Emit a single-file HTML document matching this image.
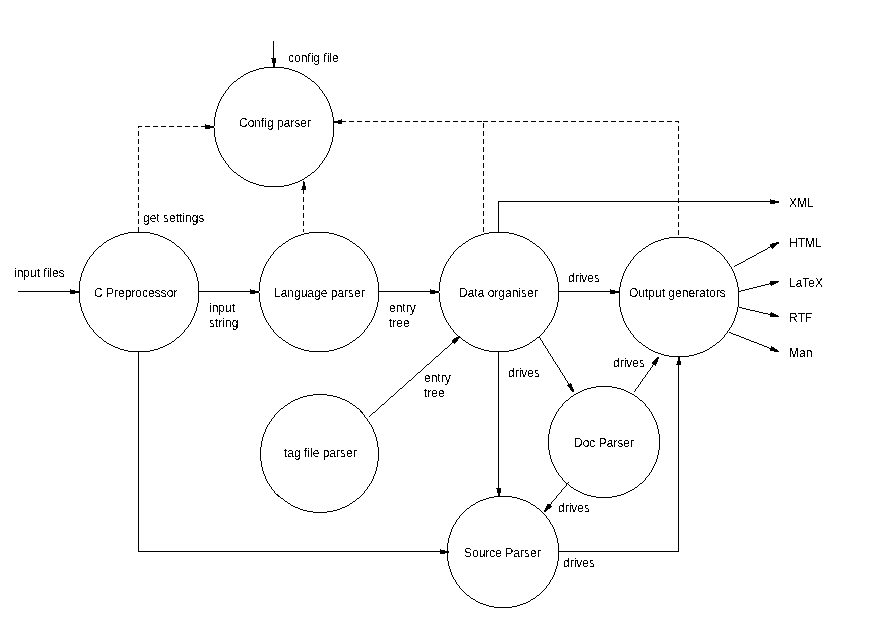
<!DOCTYPE html>
<html><head><meta charset="utf-8"><style>
html,body{margin:0;padding:0;background:#fff;width:885px;height:622px;overflow:hidden}
svg{display:block;will-change:transform}
text{font-family:"Liberation Sans",sans-serif;font-size:12px;fill:#000}
</style></head><body>
<svg width="885" height="622" viewBox="0 0 885 622">
<defs><filter id="th" x="0" y="0" width="885" height="622" filterUnits="userSpaceOnUse" color-interpolation-filters="sRGB"><feComponentTransfer><feFuncA type="discrete" tableValues="0 1"/></feComponentTransfer></filter></defs>
<path shape-rendering="crispEdges" fill="#000" d="M273 41h1v17h-1zM271 58h5v1h-5zM272 59h4v4h-4zM273 63h2v4h-2zM264 67h20v1h-20zM259 68h5v1h-5zM284 68h5v1h-5zM256 69h3v1h-3zM289 69h3v1h-3zM253 70h3v1h-3zM292 70h3v1h-3zM295 71h3v1h-3zM250 71h3v1h-3zM248 72h2v1h-2zM298 72h2v1h-2zM300 73h2v1h-2zM246 73h2v1h-2zM302 74h2v1h-2zM244 74h2v1h-2zM304 75h1v1h-1zM243 75h1v1h-1zM305 76h2v1h-2zM241 76h2v1h-2zM240 77h1v1h-1zM307 77h1v1h-1zM238 78h2v1h-2zM308 78h2v1h-2zM310 79h1v1h-1zM237 79h1v1h-1zM311 80h1v1h-1zM236 80h1v1h-1zM234 81h2v1h-2zM312 81h2v1h-2zM233 82h1v1h-1zM314 82h1v1h-1zM232 83h1v1h-1zM315 83h1v1h-1zM231 84h1v1h-1zM316 84h1v1h-1zM317 85h1v1h-1zM230 85h1v1h-1zM229 86h1v1h-1zM318 86h1v1h-1zM319 87h1v2h-1zM228 87h1v2h-1zM320 89h1v1h-1zM227 89h1v1h-1zM321 90h1v1h-1zM226 90h1v1h-1zM322 91h1v2h-1zM225 91h1v2h-1zM323 93h1v1h-1zM224 93h1v1h-1zM223 94h1v2h-1zM324 94h1v2h-1zM222 96h1v1h-1zM325 96h1v1h-1zM326 97h1v2h-1zM221 97h1v2h-1zM220 99h1v2h-1zM327 99h1v2h-1zM328 101h1v2h-1zM219 101h1v2h-1zM329 103h1v3h-1zM218 103h1v3h-1zM330 106h1v3h-1zM217 106h1v3h-1zM331 109h1v3h-1zM216 109h1v3h-1zM332 112h1v5h-1zM215 112h1v5h-1zM341 119h1v1h-1zM333 117h1v4h-1zM338 120h4v1h-4zM523 121h5v1h-5zM587 121h5v1h-5zM651 121h5v1h-5zM491 121h5v1h-5zM555 121h5v1h-5zM349 121h5v1h-5zM413 121h5v1h-5zM381 121h5v1h-5zM445 121h5v1h-5zM333 121h13v1h-13zM579 121h5v1h-5zM643 121h5v1h-5zM611 121h5v1h-5zM469 121h5v1h-5zM515 121h5v1h-5zM373 121h5v1h-5zM437 121h5v1h-5zM483 121h5v1h-5zM547 121h5v1h-5zM405 121h5v1h-5zM603 121h5v1h-5zM667 121h5v1h-5zM675 121h4v1h-4zM507 121h5v1h-5zM571 121h5v1h-5zM635 121h5v1h-5zM429 121h5v1h-5zM461 121h5v1h-5zM365 121h5v1h-5zM659 121h5v1h-5zM539 121h5v1h-5zM595 121h5v1h-5zM397 121h5v1h-5zM453 121h5v1h-5zM563 121h5v1h-5zM627 121h5v1h-5zM619 121h5v1h-5zM531 121h5v1h-5zM499 121h5v1h-5zM389 121h5v1h-5zM357 121h5v1h-5zM421 121h5v1h-5zM477 121h5v1h-5zM678 122h1v1h-1zM333 122h9v1h-9zM338 123h4v1h-4zM205 124h1v1h-1zM214 117h1v9h-1zM205 125h5v1h-5zM153 126h5v1h-5zM138 126h4v1h-4zM193 126h5v1h-5zM185 126h5v1h-5zM169 126h5v1h-5zM201 126h13v1h-13zM161 126h5v1h-5zM145 126h5v1h-5zM177 126h5v1h-5zM483 123h1v5h-1zM138 127h1v1h-1zM205 127h9v1h-9zM205 128h5v1h-5zM678 126h1v5h-1zM138 131h1v5h-1zM483 131h1v5h-1zM333 123h1v14h-1zM214 128h1v9h-1zM678 134h1v5h-1zM332 137h1v5h-1zM215 137h1v5h-1zM138 139h1v5h-1zM483 139h1v5h-1zM331 142h1v3h-1zM216 142h1v3h-1zM678 142h1v5h-1zM330 145h1v3h-1zM217 145h1v3h-1zM329 148h1v3h-1zM218 148h1v3h-1zM138 147h1v5h-1zM483 147h1v5h-1zM219 151h1v2h-1zM328 151h1v2h-1zM678 150h1v5h-1zM220 153h1v2h-1zM327 153h1v2h-1zM326 155h1v2h-1zM221 155h1v2h-1zM222 157h1v1h-1zM325 157h1v1h-1zM138 155h1v5h-1zM483 155h1v5h-1zM324 158h1v2h-1zM223 158h1v2h-1zM323 160h1v1h-1zM224 160h1v1h-1zM678 158h1v5h-1zM322 161h1v2h-1zM225 161h1v2h-1zM321 163h1v1h-1zM226 163h1v1h-1zM320 164h1v1h-1zM227 164h1v1h-1zM319 165h1v2h-1zM228 165h1v2h-1zM138 163h1v5h-1zM483 163h1v5h-1zM229 167h1v1h-1zM318 167h1v1h-1zM317 168h1v1h-1zM230 168h1v1h-1zM231 169h1v1h-1zM316 169h1v1h-1zM678 166h1v5h-1zM232 170h1v1h-1zM315 170h1v1h-1zM314 171h1v1h-1zM233 171h1v1h-1zM234 172h2v1h-2zM312 172h2v1h-2zM311 173h1v1h-1zM236 173h1v1h-1zM237 174h1v1h-1zM310 174h1v1h-1zM138 171h1v5h-1zM483 171h1v5h-1zM238 175h2v1h-2zM308 175h2v1h-2zM240 176h1v1h-1zM307 176h1v1h-1zM305 177h2v1h-2zM241 177h2v1h-2zM678 174h1v5h-1zM304 178h1v1h-1zM243 178h1v1h-1zM244 179h2v1h-2zM302 179h2v1h-2zM300 180h2v1h-2zM246 180h2v1h-2zM248 181h2v1h-2zM303 181h1v1h-1zM298 181h2v1h-2zM295 182h3v1h-3zM250 182h3v1h-3zM138 179h1v5h-1zM483 179h1v5h-1zM253 183h3v1h-3zM292 183h3v1h-3zM256 184h3v1h-3zM289 184h3v1h-3zM303 182h2v4h-2zM259 185h5v1h-5zM284 185h5v1h-5zM678 182h1v5h-1zM264 186h20v1h-20zM302 186h4v3h-4zM301 189h5v1h-5zM138 187h1v5h-1zM483 187h1v5h-1zM303 190h1v4h-1zM678 190h1v5h-1zM138 195h1v5h-1zM483 195h1v5h-1zM770 199h1v1h-1zM678 198h1v3h-1zM770 200h5v1h-5zM303 197h1v5h-1zM498 201h281v1h-281zM678 202h1v1h-1zM770 202h9v1h-9zM770 203h5v1h-5zM138 203h1v5h-1zM483 203h1v5h-1zM303 205h1v5h-1zM678 206h1v5h-1zM138 211h1v5h-1zM483 211h1v5h-1zM303 213h1v5h-1zM678 214h1v5h-1zM138 219h1v5h-1zM483 219h1v5h-1zM303 221h1v5h-1zM678 222h1v5h-1zM498 202h1v30h-1zM138 227h1v5h-1zM483 227h1v5h-1zM303 229h1v3h-1zM309 232h20v1h-20zM489 232h20v1h-20zM128 232h22v1h-22zM509 233h5v1h-5zM484 233h5v1h-5zM329 233h5v1h-5zM304 233h5v1h-5zM150 233h4v1h-4zM124 233h4v1h-4zM678 230h1v5h-1zM154 234h4v1h-4zM514 234h3v1h-3zM334 234h3v1h-3zM120 234h4v1h-4zM301 234h3v1h-3zM481 234h3v1h-3zM118 235h2v1h-2zM158 235h2v1h-2zM478 235h3v1h-3zM337 235h3v1h-3zM517 235h3v1h-3zM298 235h3v1h-3zM295 236h3v1h-3zM475 236h3v1h-3zM340 236h3v1h-3zM115 236h3v1h-3zM520 236h3v1h-3zM160 236h3v1h-3zM523 237h2v1h-2zM113 237h2v1h-2zM669 237h20v1h-20zM293 237h2v1h-2zM473 237h2v1h-2zM343 237h2v1h-2zM163 237h2v1h-2zM291 238h2v1h-2zM471 238h2v1h-2zM664 238h5v1h-5zM345 238h2v1h-2zM111 238h2v1h-2zM525 238h2v1h-2zM689 238h5v1h-5zM165 238h2v1h-2zM469 239h2v1h-2zM527 239h2v1h-2zM694 239h3v1h-3zM109 239h2v1h-2zM661 239h3v1h-3zM167 239h2v1h-2zM347 239h2v1h-2zM289 239h2v1h-2zM288 240h1v1h-1zM468 240h1v1h-1zM169 240h2v1h-2zM529 240h1v1h-1zM697 240h3v1h-3zM107 240h2v1h-2zM349 240h1v1h-1zM658 240h3v1h-3zM106 241h1v1h-1zM350 241h2v1h-2zM466 241h2v1h-2zM530 241h2v1h-2zM655 241h3v1h-3zM286 241h2v1h-2zM171 241h1v1h-1zM700 241h3v1h-3zM703 242h2v1h-2zM104 242h2v1h-2zM172 242h2v1h-2zM532 242h1v1h-1zM653 242h2v1h-2zM352 242h1v1h-1zM285 242h1v1h-1zM465 242h1v1h-1zM776 242h3v1h-3zM705 243h2v1h-2zM174 243h1v1h-1zM772 243h7v1h-7zM103 243h1v1h-1zM463 243h2v1h-2zM533 243h2v1h-2zM283 243h2v1h-2zM651 243h2v1h-2zM353 243h2v1h-2zM707 244h2v1h-2zM462 244h1v1h-1zM535 244h1v1h-1zM175 244h1v1h-1zM102 244h1v1h-1zM355 244h1v1h-1zM282 244h1v1h-1zM770 244h7v1h-7zM649 244h2v1h-2zM770 245h6v1h-6zM176 245h1v1h-1zM536 245h1v1h-1zM461 245h1v1h-1zM648 245h1v1h-1zM709 245h1v1h-1zM356 245h1v1h-1zM281 245h1v1h-1zM101 245h1v1h-1zM770 246h5v1h-5zM646 246h2v1h-2zM357 246h2v1h-2zM710 246h2v1h-2zM537 246h2v1h-2zM177 246h2v1h-2zM459 246h2v1h-2zM99 246h2v1h-2zM279 246h2v1h-2zM359 247h1v1h-1zM179 247h1v1h-1zM712 247h1v1h-1zM645 247h1v1h-1zM771 247h3v1h-3zM768 247h2v1h-2zM278 247h1v1h-1zM458 247h1v1h-1zM98 247h1v1h-1zM539 247h1v1h-1zM277 248h1v1h-1zM360 248h1v1h-1zM540 248h1v1h-1zM713 248h2v1h-2zM767 248h1v1h-1zM772 248h1v1h-1zM643 248h2v1h-2zM180 248h1v1h-1zM457 248h1v1h-1zM97 248h1v1h-1zM361 249h1v1h-1zM642 249h1v1h-1zM276 249h1v1h-1zM96 249h1v1h-1zM456 249h1v1h-1zM715 249h1v1h-1zM765 249h2v1h-2zM541 249h1v1h-1zM181 249h1v1h-1zM763 250h2v1h-2zM542 250h1v1h-1zM182 250h1v1h-1zM455 250h1v1h-1zM362 250h1v1h-1zM95 250h1v1h-1zM641 250h1v1h-1zM275 250h1v1h-1zM716 250h1v1h-1zM363 251h1v1h-1zM543 251h1v1h-1zM761 251h2v1h-2zM183 251h1v1h-1zM717 251h2v1h-2zM639 251h2v1h-2zM274 251h1v1h-1zM454 251h1v1h-1zM94 251h1v1h-1zM719 252h1v1h-1zM638 252h1v1h-1zM759 252h2v1h-2zM273 252h1v2h-1zM453 252h1v2h-1zM93 252h1v2h-1zM184 252h1v2h-1zM544 252h1v2h-1zM364 252h1v2h-1zM720 253h1v1h-1zM757 253h2v1h-2zM637 253h1v1h-1zM272 254h1v1h-1zM92 254h1v1h-1zM452 254h1v1h-1zM636 254h1v1h-1zM365 254h1v1h-1zM545 254h1v1h-1zM185 254h1v1h-1zM756 254h1v1h-1zM721 254h1v1h-1zM722 255h1v1h-1zM635 255h1v1h-1zM754 255h2v1h-2zM546 255h1v1h-1zM186 255h1v1h-1zM366 255h1v1h-1zM271 255h1v1h-1zM451 255h1v1h-1zM91 255h1v1h-1zM90 256h1v1h-1zM634 256h1v1h-1zM752 256h2v1h-2zM187 256h1v1h-1zM723 256h1v1h-1zM270 256h1v2h-1zM547 256h1v2h-1zM367 256h1v2h-1zM450 256h1v2h-1zM750 257h2v1h-2zM633 257h1v2h-1zM89 257h1v2h-1zM724 257h1v2h-1zM188 257h1v2h-1zM269 258h1v1h-1zM449 258h1v1h-1zM368 258h1v1h-1zM748 258h2v1h-2zM548 258h1v1h-1zM189 259h1v1h-1zM725 259h1v1h-1zM632 259h1v1h-1zM88 259h1v1h-1zM746 259h2v1h-2zM549 259h1v2h-1zM369 259h1v2h-1zM268 259h1v2h-1zM448 259h1v2h-1zM726 260h1v1h-1zM745 260h1v1h-1zM631 260h1v1h-1zM190 260h1v2h-1zM87 260h1v2h-1zM370 261h1v1h-1zM550 261h1v1h-1zM743 261h2v1h-2zM267 261h1v1h-1zM447 261h1v1h-1zM630 261h1v2h-1zM727 261h1v2h-1zM741 262h2v1h-2zM551 262h1v2h-1zM266 262h1v2h-1zM191 262h1v2h-1zM446 262h1v2h-1zM371 262h1v2h-1zM86 262h1v2h-1zM629 263h1v1h-1zM739 263h2v1h-2zM728 263h1v1h-1zM737 264h2v1h-2zM729 264h1v2h-1zM372 264h1v2h-1zM192 264h1v2h-1zM445 264h1v2h-1zM552 264h1v2h-1zM85 264h1v2h-1zM265 264h1v2h-1zM628 264h1v2h-1zM735 265h2v1h-2zM734 266h1v1h-1zM627 266h1v1h-1zM730 266h1v1h-1zM444 266h1v2h-1zM553 266h1v2h-1zM264 266h1v2h-1zM193 266h1v2h-1zM373 266h1v2h-1zM84 266h1v2h-1zM626 267h1v2h-1zM731 267h1v2h-1zM443 268h1v3h-1zM83 268h1v3h-1zM263 268h1v3h-1zM374 268h1v3h-1zM554 268h1v3h-1zM194 268h1v3h-1zM732 269h1v2h-1zM625 269h1v2h-1zM624 271h1v2h-1zM733 271h1v2h-1zM82 271h1v2h-1zM195 271h1v2h-1zM262 271h1v3h-1zM555 271h1v3h-1zM442 271h1v3h-1zM375 271h1v3h-1zM623 273h1v3h-1zM734 273h1v3h-1zM81 273h1v4h-1zM196 273h1v4h-1zM556 274h1v3h-1zM376 274h1v3h-1zM261 274h1v3h-1zM441 274h1v3h-1zM622 276h1v3h-1zM735 276h1v3h-1zM197 277h1v4h-1zM80 277h1v4h-1zM440 277h1v5h-1zM260 277h1v5h-1zM557 277h1v5h-1zM377 277h1v5h-1zM621 279h1v3h-1zM736 279h1v3h-1zM770 281h9v1h-9zM770 282h8v1h-8zM769 283h7v1h-7zM765 284h4v1h-4zM770 284h4v1h-4zM771 285h1v1h-1zM761 285h4v1h-4zM620 282h1v5h-1zM737 282h1v5h-1zM757 286h4v1h-4zM753 287h4v1h-4zM749 288h4v1h-4zM70 289h1v1h-1zM745 289h4v1h-4zM610 289h1v1h-1zM250 289h1v1h-1zM430 289h1v1h-1zM198 281h1v10h-1zM79 281h1v10h-1zM558 282h1v9h-1zM378 282h1v9h-1zM259 282h1v9h-1zM439 282h1v9h-1zM738 287h1v4h-1zM619 287h1v4h-1zM741 290h4v1h-4zM430 290h5v1h-5zM610 290h5v1h-5zM70 290h5v1h-5zM250 290h5v1h-5zM558 291h62v1h-62zM18 291h62v1h-62zM738 291h3v1h-3zM198 291h61v1h-61zM378 291h61v1h-61zM70 292h10v1h-10zM430 292h9v1h-9zM250 292h9v1h-9zM610 292h10v1h-10zM430 293h5v1h-5zM610 293h5v1h-5zM70 293h5v1h-5zM250 293h5v1h-5zM558 292h1v10h-1zM378 292h1v10h-1zM259 293h1v9h-1zM439 293h1v9h-1zM198 292h1v11h-1zM79 293h1v10h-1zM738 292h1v15h-1zM619 293h1v14h-1zM440 302h1v5h-1zM260 302h1v5h-1zM557 302h1v5h-1zM377 302h1v5h-1zM197 303h1v4h-1zM80 303h1v4h-1zM739 307h3v1h-3zM742 308h4v1h-4zM556 307h1v3h-1zM376 307h1v3h-1zM261 307h1v3h-1zM441 307h1v3h-1zM746 309h4v1h-4zM81 307h1v4h-1zM196 307h1v4h-1zM750 310h5v1h-5zM620 307h1v5h-1zM737 307h1v5h-1zM755 311h4v1h-4zM262 310h1v3h-1zM555 310h1v3h-1zM442 310h1v3h-1zM375 310h1v3h-1zM82 311h1v2h-1zM195 311h1v2h-1zM759 312h4v1h-4zM771 312h1v1h-1zM763 313h5v1h-5zM770 313h4v1h-4zM621 312h1v3h-1zM736 312h1v3h-1zM768 314h8v1h-8zM443 313h1v3h-1zM83 313h1v3h-1zM263 313h1v3h-1zM374 313h1v3h-1zM554 313h1v3h-1zM194 313h1v3h-1zM770 315h8v1h-8zM770 316h9v1h-9zM622 315h1v3h-1zM735 315h1v3h-1zM444 316h1v2h-1zM553 316h1v2h-1zM264 316h1v2h-1zM193 316h1v2h-1zM373 316h1v2h-1zM84 316h1v2h-1zM372 318h1v2h-1zM192 318h1v2h-1zM445 318h1v2h-1zM552 318h1v2h-1zM85 318h1v2h-1zM265 318h1v2h-1zM623 318h1v3h-1zM734 318h1v3h-1zM551 320h1v2h-1zM266 320h1v2h-1zM191 320h1v2h-1zM446 320h1v2h-1zM371 320h1v2h-1zM86 320h1v2h-1zM624 321h1v2h-1zM733 321h1v2h-1zM370 322h1v1h-1zM550 322h1v1h-1zM267 322h1v1h-1zM447 322h1v1h-1zM190 322h1v2h-1zM87 322h1v2h-1zM549 323h1v2h-1zM369 323h1v2h-1zM732 323h1v2h-1zM625 323h1v2h-1zM268 323h1v2h-1zM448 323h1v2h-1zM189 324h1v1h-1zM88 324h1v1h-1zM269 325h1v1h-1zM449 325h1v1h-1zM368 325h1v1h-1zM548 325h1v1h-1zM626 325h1v2h-1zM731 325h1v2h-1zM89 325h1v2h-1zM188 325h1v2h-1zM270 326h1v2h-1zM547 326h1v2h-1zM367 326h1v2h-1zM450 326h1v2h-1zM90 327h1v1h-1zM627 327h1v1h-1zM187 327h1v1h-1zM730 327h1v1h-1zM546 328h1v1h-1zM186 328h1v1h-1zM366 328h1v1h-1zM271 328h1v1h-1zM451 328h1v1h-1zM91 328h1v1h-1zM729 328h1v2h-1zM628 328h1v2h-1zM272 329h1v1h-1zM92 329h1v1h-1zM452 329h1v1h-1zM365 329h1v1h-1zM545 329h1v1h-1zM185 329h1v1h-1zM629 330h1v1h-1zM728 330h1v1h-1zM273 330h1v2h-1zM453 330h1v2h-1zM93 330h1v2h-1zM184 330h1v2h-1zM544 330h1v2h-1zM364 330h1v2h-1zM630 331h1v2h-1zM727 331h1v2h-1zM363 332h1v1h-1zM543 332h1v1h-1zM183 332h1v1h-1zM729 332h2v1h-2zM274 332h1v1h-1zM454 332h1v1h-1zM94 332h1v1h-1zM542 333h1v1h-1zM182 333h1v1h-1zM455 333h1v1h-1zM362 333h1v1h-1zM726 333h1v1h-1zM95 333h1v1h-1zM275 333h1v1h-1zM631 333h1v1h-1zM731 333h2v1h-2zM361 334h1v1h-1zM276 334h1v1h-1zM96 334h1v1h-1zM456 334h1v1h-1zM632 334h1v1h-1zM725 334h1v1h-1zM733 334h3v1h-3zM541 334h1v1h-1zM181 334h1v1h-1zM277 335h1v1h-1zM360 335h1v1h-1zM540 335h1v1h-1zM736 335h3v1h-3zM180 335h1v1h-1zM457 335h1v1h-1zM97 335h1v1h-1zM633 335h1v2h-1zM724 335h1v2h-1zM359 336h1v1h-1zM179 336h1v1h-1zM458 336h2v1h-2zM278 336h1v1h-1zM739 336h2v1h-2zM98 336h1v1h-1zM539 336h1v1h-1zM537 337h3v1h-3zM456 337h5v1h-5zM357 337h2v1h-2zM634 337h1v1h-1zM177 337h2v1h-2zM741 337h3v1h-3zM99 337h2v1h-2zM279 337h2v1h-2zM723 337h1v1h-1zM722 338h1v1h-1zM635 338h1v1h-1zM176 338h1v1h-1zM744 338h2v1h-2zM454 338h5v1h-5zM461 338h1v1h-1zM536 338h1v1h-1zM356 338h1v1h-1zM281 338h1v1h-1zM101 338h1v1h-1zM540 338h1v2h-1zM453 339h5v1h-5zM746 339h3v1h-3zM462 339h1v1h-1zM535 339h1v1h-1zM175 339h1v1h-1zM102 339h1v1h-1zM355 339h1v1h-1zM282 339h1v1h-1zM636 339h1v1h-1zM721 339h1v1h-1zM720 340h1v1h-1zM174 340h1v1h-1zM103 340h1v1h-1zM637 340h1v1h-1zM463 340h2v1h-2zM749 340h2v1h-2zM533 340h2v1h-2zM541 340h1v1h-1zM283 340h2v1h-2zM452 340h6v1h-6zM353 340h2v1h-2zM104 341h2v1h-2zM172 341h2v1h-2zM452 341h5v1h-5zM532 341h1v1h-1zM719 341h1v1h-1zM352 341h1v1h-1zM638 341h1v1h-1zM285 341h1v1h-1zM751 341h3v1h-3zM465 341h1v1h-1zM542 341h1v2h-1zM754 342h3v1h-3zM106 342h1v1h-1zM717 342h2v1h-2zM452 342h4v1h-4zM350 342h2v1h-2zM639 342h2v1h-2zM466 342h2v1h-2zM530 342h2v1h-2zM286 342h2v1h-2zM171 342h1v1h-1zM288 343h1v1h-1zM468 343h1v1h-1zM757 343h2v1h-2zM169 343h2v1h-2zM529 343h1v1h-1zM641 343h1v1h-1zM716 343h1v1h-1zM107 343h2v1h-2zM349 343h1v1h-1zM454 343h1v1h-1zM451 343h1v1h-1zM543 343h1v2h-1zM469 344h2v1h-2zM642 344h1v1h-1zM527 344h2v1h-2zM759 344h3v1h-3zM715 344h1v1h-1zM109 344h2v1h-2zM167 344h2v1h-2zM347 344h2v1h-2zM450 344h1v1h-1zM289 344h2v1h-2zM291 345h2v1h-2zM471 345h2v1h-2zM345 345h2v1h-2zM111 345h2v1h-2zM525 345h2v1h-2zM449 345h1v1h-1zM165 345h2v1h-2zM762 345h2v1h-2zM544 345h1v1h-1zM643 345h2v1h-2zM713 345h2v1h-2zM523 346h2v1h-2zM113 346h2v1h-2zM771 346h1v1h-1zM764 346h3v1h-3zM712 346h1v1h-1zM293 346h2v1h-2zM645 346h1v1h-1zM473 346h2v1h-2zM343 346h2v1h-2zM163 346h2v1h-2zM448 346h1v1h-1zM545 346h1v2h-1zM767 347h2v1h-2zM295 347h3v1h-3zM475 347h3v1h-3zM340 347h3v1h-3zM115 347h3v1h-3zM520 347h3v1h-3zM646 347h2v1h-2zM160 347h3v1h-3zM710 347h2v1h-2zM771 347h3v1h-3zM447 347h1v1h-1zM118 348h2v1h-2zM445 348h2v1h-2zM546 348h1v1h-1zM158 348h2v1h-2zM648 348h1v1h-1zM709 348h1v1h-1zM769 348h6v1h-6zM337 348h3v1h-3zM478 348h3v1h-3zM517 348h3v1h-3zM298 348h3v1h-3zM707 349h2v1h-2zM444 349h1v1h-1zM154 349h4v1h-4zM514 349h3v1h-3zM334 349h3v1h-3zM120 349h4v1h-4zM770 349h7v1h-7zM301 349h3v1h-3zM649 349h2v1h-2zM481 349h3v1h-3zM547 349h1v2h-1zM443 350h1v1h-1zM705 350h2v1h-2zM509 350h5v1h-5zM484 350h5v1h-5zM329 350h5v1h-5zM304 350h5v1h-5zM770 350h8v1h-8zM150 350h4v1h-4zM124 350h4v1h-4zM651 350h2v1h-2zM703 351h2v1h-2zM309 351h20v1h-20zM442 351h1v1h-1zM653 351h2v1h-2zM128 351h22v1h-22zM774 351h5v1h-5zM489 351h20v1h-20zM548 351h1v2h-1zM655 352h3v1h-3zM700 352h3v1h-3zM441 352h1v1h-1zM440 353h1v1h-1zM549 353h1v1h-1zM697 353h3v1h-3zM658 353h3v1h-3zM439 354h1v1h-1zM694 354h3v1h-3zM661 354h3v1h-3zM550 354h1v2h-1zM664 355h5v1h-5zM689 355h5v1h-5zM438 355h1v1h-1zM551 356h1v1h-1zM436 356h2v1h-2zM669 356h20v1h-20zM657 357h2v1h-2zM435 357h1v1h-1zM552 357h1v2h-1zM434 358h1v1h-1zM656 358h3v1h-3zM433 359h1v1h-1zM655 359h3v1h-3zM678 357h2v4h-2zM553 359h1v2h-1zM654 360h4v1h-4zM432 360h1v1h-1zM431 361h1v1h-1zM653 361h5v1h-5zM554 361h1v1h-1zM430 362h1v1h-1zM677 361h4v3h-4zM555 362h1v2h-1zM652 362h5v2h-5zM429 363h1v1h-1zM427 364h2v1h-2zM653 364h3v1h-3zM676 364h5v1h-5zM556 364h1v1h-1zM426 365h1v1h-1zM655 365h1v1h-1zM652 365h1v2h-1zM557 365h1v2h-1zM425 366h1v1h-1zM424 367h1v1h-1zM558 367h1v1h-1zM651 367h1v1h-1zM423 368h1v1h-1zM559 368h1v2h-1zM650 368h1v2h-1zM422 369h1v1h-1zM649 370h1v1h-1zM421 370h1v1h-1zM560 370h1v2h-1zM648 371h1v1h-1zM420 371h1v1h-1zM561 372h1v1h-1zM418 372h2v1h-2zM647 372h1v2h-1zM417 373h1v1h-1zM562 373h1v2h-1zM416 374h1v1h-1zM646 374h1v1h-1zM415 375h1v1h-1zM563 375h1v1h-1zM645 375h1v2h-1zM414 376h1v1h-1zM564 376h1v2h-1zM413 377h1v1h-1zM644 377h1v1h-1zM643 378h1v1h-1zM412 378h1v1h-1zM565 378h1v2h-1zM411 379h1v1h-1zM642 379h1v2h-1zM566 380h1v1h-1zM409 380h2v1h-2zM408 381h1v1h-1zM641 381h1v1h-1zM567 381h1v2h-1zM407 382h1v1h-1zM640 382h1v2h-1zM568 383h1v1h-1zM406 383h1v1h-1zM570 383h1v1h-1zM639 384h1v1h-1zM568 384h4v1h-4zM405 384h1v1h-1zM404 385h1v1h-1zM567 385h5v1h-5zM638 385h1v2h-1zM568 386h4v1h-4zM403 386h1v1h-1zM596 386h16v1h-16zM591 387h5v1h-5zM402 387h1v1h-1zM569 387h4v1h-4zM612 387h5v1h-5zM637 387h1v1h-1zM400 388h2v1h-2zM617 388h4v1h-4zM587 388h4v1h-4zM636 388h1v1h-1zM570 388h3v1h-3zM621 389h3v1h-3zM399 389h1v1h-1zM584 389h3v1h-3zM570 389h4v1h-4zM635 389h1v2h-1zM398 390h1v1h-1zM582 390h2v1h-2zM624 390h2v1h-2zM571 390h3v1h-3zM580 391h2v1h-2zM626 391h2v1h-2zM397 391h1v1h-1zM634 391h1v1h-1zM572 391h2v1h-2zM628 392h2v1h-2zM396 392h1v1h-1zM578 392h2v1h-2zM395 393h1v1h-1zM576 393h2v1h-2zM630 393h2v1h-2zM632 394h2v1h-2zM574 394h2v1h-2zM313 394h14v1h-14zM394 394h1v1h-1zM634 395h1v1h-1zM393 395h1v1h-1zM327 395h6v1h-6zM307 395h6v1h-6zM573 395h1v1h-1zM571 396h2v1h-2zM635 396h2v1h-2zM391 396h2v1h-2zM333 396h4v1h-4zM303 396h4v1h-4zM637 397h1v1h-1zM570 397h1v1h-1zM337 397h3v1h-3zM390 397h1v1h-1zM300 397h3v1h-3zM569 398h1v1h-1zM638 398h1v1h-1zM389 398h1v1h-1zM340 398h2v1h-2zM298 398h2v1h-2zM639 399h1v1h-1zM342 399h3v1h-3zM568 399h1v1h-1zM388 399h1v1h-1zM295 399h3v1h-3zM345 400h2v1h-2zM293 400h2v1h-2zM566 400h2v1h-2zM387 400h1v1h-1zM640 400h2v1h-2zM291 401h2v1h-2zM565 401h1v1h-1zM642 401h1v1h-1zM347 401h2v1h-2zM386 401h1v1h-1zM643 402h1v1h-1zM290 402h1v1h-1zM385 402h1v1h-1zM564 402h1v1h-1zM349 402h1v1h-1zM384 403h1v1h-1zM350 403h2v1h-2zM563 403h1v1h-1zM644 403h1v1h-1zM288 403h2v1h-2zM382 404h2v1h-2zM352 404h1v1h-1zM287 404h1v1h-1zM562 404h1v2h-1zM645 404h1v2h-1zM285 405h2v1h-2zM381 405h1v1h-1zM353 405h2v1h-2zM355 406h1v1h-1zM284 406h1v1h-1zM561 406h1v1h-1zM380 406h1v1h-1zM646 406h1v1h-1zM379 407h1v1h-1zM283 407h1v1h-1zM356 407h1v1h-1zM647 407h1v1h-1zM560 407h1v1h-1zM559 408h1v1h-1zM378 408h1v1h-1zM281 408h2v1h-2zM648 408h1v1h-1zM357 408h2v1h-2zM359 409h1v1h-1zM377 409h1v1h-1zM280 409h1v1h-1zM649 409h1v2h-1zM558 409h1v2h-1zM360 410h1v1h-1zM279 410h1v1h-1zM376 410h1v1h-1zM375 411h1v1h-1zM278 411h1v1h-1zM557 411h1v1h-1zM360 411h2v1h-2zM650 411h1v1h-1zM277 412h1v1h-1zM361 412h2v1h-2zM373 412h2v1h-2zM651 412h1v2h-1zM556 412h1v2h-1zM372 413h1v1h-1zM276 413h1v1h-1zM362 413h1v1h-1zM363 414h1v1h-1zM371 414h1v1h-1zM275 414h1v1h-1zM652 414h1v2h-1zM555 414h1v2h-1zM370 415h1v1h-1zM274 415h1v2h-1zM364 415h1v2h-1zM369 416h1v1h-1zM554 416h1v2h-1zM653 416h1v2h-1zM273 417h1v1h-1zM365 417h1v1h-1zM272 418h1v1h-1zM366 418h1v1h-1zM553 418h1v2h-1zM654 418h1v2h-1zM271 419h1v2h-1zM367 419h1v2h-1zM655 420h1v2h-1zM552 420h1v2h-1zM270 421h1v1h-1zM368 421h1v1h-1zM269 422h1v2h-1zM369 422h1v2h-1zM551 422h1v3h-1zM656 422h1v3h-1zM370 424h1v1h-1zM268 424h1v1h-1zM371 425h1v2h-1zM267 425h1v2h-1zM550 425h1v4h-1zM657 425h1v4h-1zM372 427h1v2h-1zM266 427h1v2h-1zM373 429h1v3h-1zM265 429h1v3h-1zM549 429h1v5h-1zM658 429h1v5h-1zM264 432h1v2h-1zM374 432h1v2h-1zM263 434h1v3h-1zM375 434h1v3h-1zM262 437h1v4h-1zM376 437h1v4h-1zM261 441h1v6h-1zM377 441h1v6h-1zM548 434h1v16h-1zM659 434h1v16h-1zM549 450h1v5h-1zM658 450h1v5h-1zM550 455h1v4h-1zM657 455h1v4h-1zM260 447h1v14h-1zM378 447h1v14h-1zM551 459h1v3h-1zM656 459h1v3h-1zM655 462h1v2h-1zM552 462h1v2h-1zM553 464h1v2h-1zM654 464h1v2h-1zM261 461h1v6h-1zM377 461h1v6h-1zM653 466h1v2h-1zM554 466h1v2h-1zM652 468h1v2h-1zM555 468h1v2h-1zM262 467h1v4h-1zM376 467h1v4h-1zM651 470h1v2h-1zM556 470h1v2h-1zM557 472h1v1h-1zM650 472h1v1h-1zM263 471h1v3h-1zM375 471h1v3h-1zM649 473h1v2h-1zM558 473h1v2h-1zM264 474h1v2h-1zM374 474h1v2h-1zM559 475h1v1h-1zM648 475h1v1h-1zM647 476h1v1h-1zM560 476h1v1h-1zM561 477h1v1h-1zM646 477h1v1h-1zM373 476h1v3h-1zM265 476h1v3h-1zM562 478h1v2h-1zM645 478h1v2h-1zM372 479h1v2h-1zM266 479h1v2h-1zM563 480h1v1h-1zM644 480h1v1h-1zM643 481h1v1h-1zM564 481h1v1h-1zM371 481h1v2h-1zM267 481h1v2h-1zM568 482h1v1h-1zM565 482h1v1h-1zM642 482h1v1h-1zM370 483h1v1h-1zM566 483h2v1h-2zM268 483h1v1h-1zM640 483h2v1h-2zM639 484h1v1h-1zM568 484h1v1h-1zM566 484h1v2h-1zM269 484h1v2h-1zM369 484h1v2h-1zM569 485h1v1h-1zM638 485h1v1h-1zM270 486h1v1h-1zM565 486h1v1h-1zM368 486h1v1h-1zM570 486h1v1h-1zM637 486h1v1h-1zM498 352h1v136h-1zM571 487h2v1h-2zM635 487h2v1h-2zM564 487h1v1h-1zM271 487h1v2h-1zM367 487h1v2h-1zM634 488h1v1h-1zM496 488h5v1h-5zM563 488h1v1h-1zM573 488h1v1h-1zM632 489h2v1h-2zM272 489h1v1h-1zM562 489h1v1h-1zM574 489h2v1h-2zM366 489h1v1h-1zM273 490h1v1h-1zM576 490h2v1h-2zM365 490h1v1h-1zM630 490h2v1h-2zM561 490h1v2h-1zM628 491h2v1h-2zM578 491h2v1h-2zM497 489h4v4h-4zM274 491h1v2h-1zM364 491h1v2h-1zM580 492h2v1h-2zM626 492h2v1h-2zM560 492h1v1h-1zM363 493h1v1h-1zM559 493h1v1h-1zM582 493h2v1h-2zM275 493h1v1h-1zM624 493h2v1h-2zM621 494h3v1h-3zM558 494h1v1h-1zM584 494h3v1h-3zM362 494h1v1h-1zM276 494h2v1h-2zM498 493h2v3h-2zM361 495h1v1h-1zM617 495h4v1h-4zM587 495h4v1h-4zM277 495h2v1h-2zM557 495h1v1h-1zM360 496h1v1h-1zM591 496h5v1h-5zM278 496h2v1h-2zM612 496h5v1h-5zM494 496h18v1h-18zM556 496h1v2h-1zM359 497h1v1h-1zM512 497h5v1h-5zM489 497h5v1h-5zM596 497h16v1h-16zM280 497h1v1h-1zM555 498h1v1h-1zM281 498h2v1h-2zM486 498h3v1h-3zM357 498h2v1h-2zM517 498h3v1h-3zM483 499h3v1h-3zM283 499h1v1h-1zM356 499h1v1h-1zM520 499h3v1h-3zM554 499h1v1h-1zM553 500h1v1h-1zM355 500h1v1h-1zM284 500h1v1h-1zM523 500h3v1h-3zM480 500h3v1h-3zM478 501h2v1h-2zM285 501h2v1h-2zM552 501h1v1h-1zM526 501h2v1h-2zM353 501h2v1h-2zM528 502h2v1h-2zM352 502h1v1h-1zM476 502h2v1h-2zM287 502h1v1h-1zM551 502h1v2h-1zM530 503h1v1h-1zM475 503h1v1h-1zM350 503h2v1h-2zM288 503h2v1h-2zM290 504h1v1h-1zM531 504h2v1h-2zM473 504h2v1h-2zM349 504h1v1h-1zM547 504h4v2h-4zM291 505h2v1h-2zM471 505h2v1h-2zM533 505h2v1h-2zM347 505h2v1h-2zM345 506h2v1h-2zM535 506h1v1h-1zM293 506h2v1h-2zM546 506h6v1h-6zM470 506h1v1h-1zM342 507h3v1h-3zM469 507h1v1h-1zM295 507h3v1h-3zM536 507h1v1h-1zM546 507h5v1h-5zM467 508h2v1h-2zM545 508h5v1h-5zM537 508h2v1h-2zM340 508h2v1h-2zM298 508h2v1h-2zM539 509h1v1h-1zM337 509h3v1h-3zM300 509h3v1h-3zM466 509h1v1h-1zM545 509h3v1h-3zM544 510h3v1h-3zM540 510h1v1h-1zM333 510h4v1h-4zM465 510h1v1h-1zM303 510h4v1h-4zM464 511h1v1h-1zM544 511h2v1h-2zM327 511h6v1h-6zM541 511h1v1h-1zM307 511h6v1h-6zM463 512h1v1h-1zM542 512h1v1h-1zM313 512h14v1h-14zM462 513h1v1h-1zM543 513h1v1h-1zM544 514h1v1h-1zM461 514h1v1h-1zM460 515h1v1h-1zM545 515h1v1h-1zM546 516h1v2h-1zM459 516h1v2h-1zM458 518h1v1h-1zM547 518h1v1h-1zM548 519h1v1h-1zM457 519h1v1h-1zM549 520h1v2h-1zM456 520h1v2h-1zM550 522h1v2h-1zM455 522h1v2h-1zM551 524h1v1h-1zM454 524h1v1h-1zM453 525h1v2h-1zM552 525h1v2h-1zM452 527h1v2h-1zM553 527h1v2h-1zM451 529h1v3h-1zM554 529h1v3h-1zM555 532h1v3h-1zM450 532h1v3h-1zM449 535h1v3h-1zM556 535h1v3h-1zM557 538h1v5h-1zM448 538h1v5h-1zM440 549h1v1h-1zM138 352h1v199h-1zM678 365h1v186h-1zM447 543h1v8h-1zM558 543h1v8h-1zM440 550h5v1h-5zM558 551h121v1h-121zM138 551h311v1h-311zM440 552h9v1h-9zM440 553h5v1h-5zM558 552h1v9h-1zM447 553h1v8h-1zM557 561h1v5h-1zM448 561h1v5h-1zM449 566h1v3h-1zM556 566h1v3h-1zM555 569h1v3h-1zM450 569h1v3h-1zM451 572h1v3h-1zM554 572h1v3h-1zM452 575h1v2h-1zM553 575h1v2h-1zM453 577h1v2h-1zM552 577h1v2h-1zM551 579h1v1h-1zM454 579h1v1h-1zM550 580h1v2h-1zM455 580h1v2h-1zM549 582h1v2h-1zM456 582h1v2h-1zM548 584h1v1h-1zM457 584h1v1h-1zM458 585h1v1h-1zM547 585h1v1h-1zM546 586h1v2h-1zM459 586h1v2h-1zM460 588h1v1h-1zM545 588h1v1h-1zM544 589h1v1h-1zM461 589h1v1h-1zM462 590h1v1h-1zM543 590h1v1h-1zM542 591h1v1h-1zM463 591h1v1h-1zM541 592h1v1h-1zM464 592h1v1h-1zM540 593h1v1h-1zM465 593h1v1h-1zM539 594h1v1h-1zM466 594h1v1h-1zM467 595h2v1h-2zM537 595h2v1h-2zM469 596h1v1h-1zM536 596h1v1h-1zM535 597h1v1h-1zM470 597h1v1h-1zM533 598h2v1h-2zM471 598h2v1h-2zM531 599h2v1h-2zM473 599h2v1h-2zM475 600h1v1h-1zM530 600h1v1h-1zM476 601h2v1h-2zM528 601h2v1h-2zM478 602h2v1h-2zM526 602h2v1h-2zM480 603h3v1h-3zM523 603h3v1h-3zM483 604h3v1h-3zM520 604h3v1h-3zM486 605h3v1h-3zM517 605h3v1h-3zM512 606h5v1h-5zM489 606h5v1h-5zM494 607h18v1h-18z"/>
<g filter="url(#th)">
<text x="288" y="62">config file</text>
<text x="239" y="127">Config parser</text>
<text x="143" y="222">get settings</text>
<text x="14" y="277">input files</text>
<text x="94" y="297">C Preprocessor</text>
<text x="209" y="312">input</text>
<text x="209" y="327">string</text>
<text x="274" y="297">Language parser</text>
<text x="389" y="312">entry</text>
<text x="389" y="327">tree</text>
<text x="459" y="297">Data organiser</text>
<text x="568" y="282">drives</text>
<text x="629" y="297">Output generators</text>
<text x="789" y="207">XML</text>
<text x="789" y="247">HTML</text>
<text x="789" y="287">LaTeX</text>
<text x="789" y="322">RTF</text>
<text x="789" y="357">Man</text>
<text x="424" y="382">entry</text>
<text x="424" y="397">tree</text>
<text x="508" y="377">drives</text>
<text x="613" y="367">drives</text>
<text x="284" y="457">tag file parser</text>
<text x="574" y="447">Doc Parser</text>
<text x="558" y="512">drives</text>
<text x="464" y="557">Source Parser</text>
<text x="563" y="567">drives</text>
</g>
</svg>
</body></html>
